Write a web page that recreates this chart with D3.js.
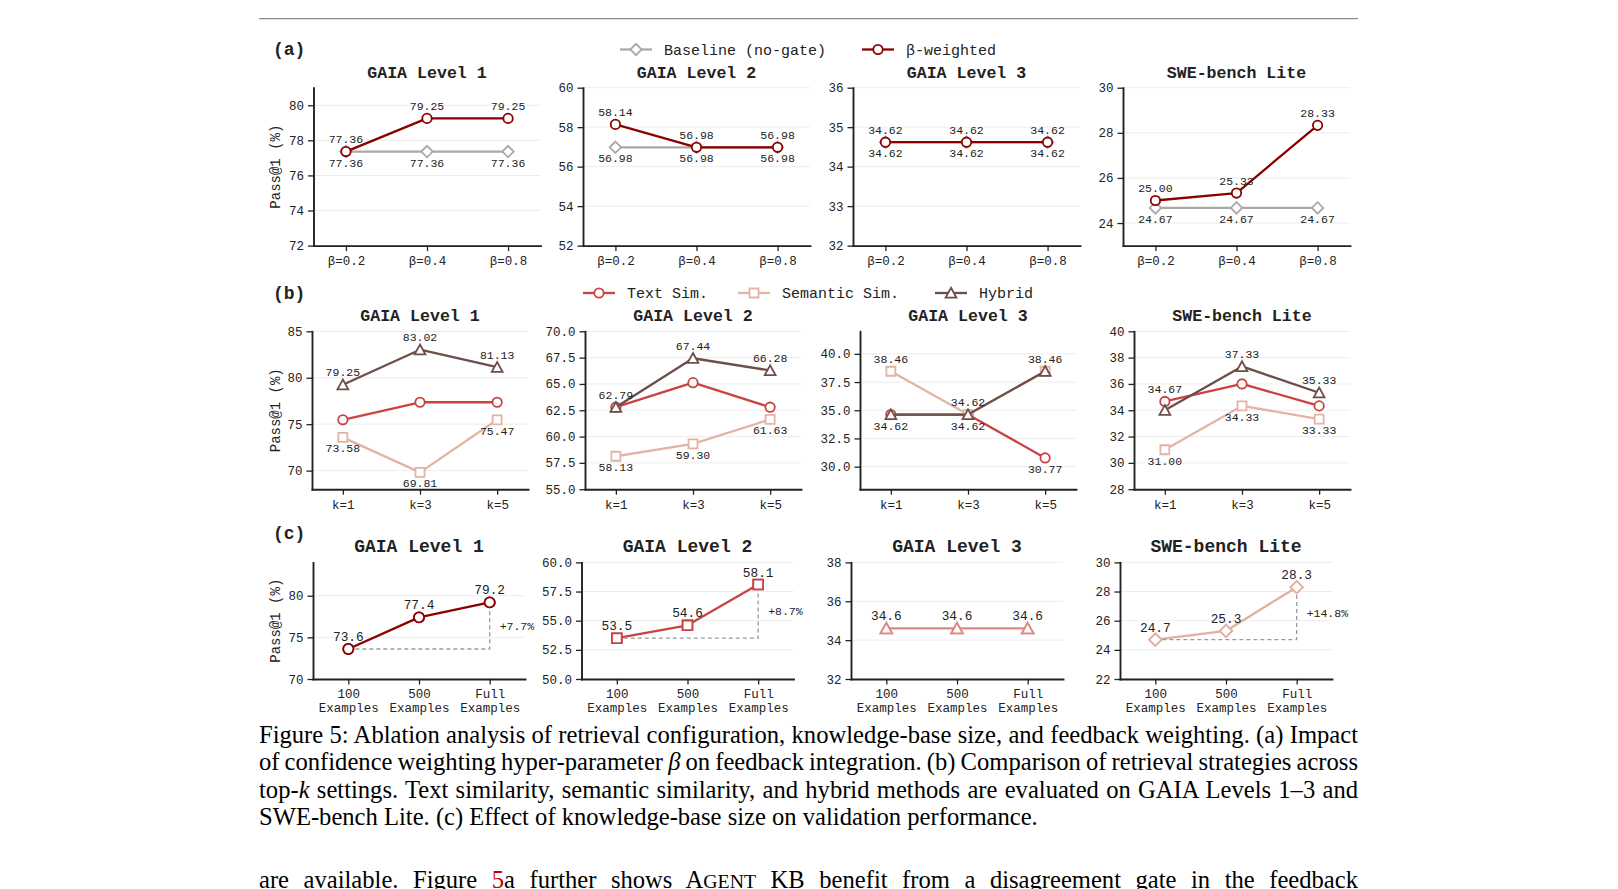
<!DOCTYPE html>
<html>
<head>
<meta charset="utf-8">
<script src="https://d3js.org/d3.v7.min.js"></script>
<style>
  html, body { margin: 0; padding: 0; background: #fff; }
  svg { display: block; }
</style>
</head>
<body>
<svg id="fig" width="1618" height="889"></svg>
<script>
// ---- data ----
const benchmarks = ["GAIA Level 1", "GAIA Level 2", "GAIA Level 3", "SWE-bench Lite"];
const betaLabels = ["β=0.2", "β=0.4", "β=0.8"];
const topKLabels = ["k=1", "k=3", "k=5"];
const kbSizeLabels = [["100", "Examples"], ["500", "Examples"], ["Full", "Examples"]];

// (a) confidence weighting
const baselineScores = [[77.36, 77.36, 77.36], [56.98, 56.98, 56.98], [34.62, 34.62, 34.62], [24.67, 24.67, 24.67]];
const betaWeightedScores = [[77.36, 79.25, 79.25], [58.14, 56.98, 56.98], [34.62, 34.62, 34.62], [25.00, 25.33, 28.33]];

// (b) retrieval strategies
const textSimScores = [[75.47, 77.36, 77.36], [62.79, 65.12, 62.79], [34.62, 34.62, 30.77], [34.67, 36.00, 34.33]];
const semanticSimScores = [[73.58, 69.81, 75.47], [58.13, 59.30, 61.63], [38.46, 34.62, 38.46], [31.00, 34.33, 33.33]];
const hybridScores = [[79.25, 83.02, 81.13], [62.79, 67.44, 66.28], [34.62, 34.62, 38.46], [34.00, 37.33, 35.33]];

// (c) knowledge-base size
const kbSizeScores = [[73.6, 77.4, 79.2], [53.5, 54.6, 58.1], [34.6, 34.6, 34.6], [24.7, 25.3, 28.3]];
const kbGainLabels = ["+7.7%", "+8.7%", null, "+14.8%"];

// y ranges and ticks per panel
const yDomainA = [[72, 81], [52, 60], [32, 36], [23, 30]];
const yTicksA = [[72, 74, 76, 78, 80], [52, 54, 56, 58, 60], [32, 33, 34, 35, 36], [24, 26, 28, 30]];
const yDomainB = [[68, 85], [55, 70], [28, 42], [28, 40]];
const yTicksB = [[70, 75, 80, 85], [55, 57.5, 60, 62.5, 65, 67.5, 70], [30, 32.5, 35, 37.5, 40], [28, 30, 32, 34, 36, 38, 40]];
const yDomainC = [[70, 84], [50, 60], [32, 38], [22, 30]];
const yTicksC = [[70, 75, 80], [50, 52.5, 55, 57.5, 60], [32, 34, 36, 38], [22, 24, 26, 28, 30]];

// ---- styling ----
const MONO = '"Liberation Mono","Courier New",monospace';
const SERIF = '"Liberation Serif","Times New Roman",serif';
const C_BASE = "#a9a9a9", C_BETA = "#8b0000";
const C_TEXT = "#c94343", C_SEM = "#e4b3a5", C_HYB = "#6e4e4a";
const kbColors = ["#8b0000", "#c94343", "#db8a83", "#e2b0a2"];
const kbShapes = ["circle", "square", "triangle", "diamond"];

const rowFrames = [
  { top: 87.7, bottom: 245.6, lefts: [313.5, 583, 853, 1123], width: 227, pad: 0.4, titleSize: 16.6 },
  { top: 331.3, bottom: 489.2, lefts: [312, 585, 860, 1134], width: 216, pad: 0.4, titleSize: 16.6 },
  { top: 562.4, bottom: 679, lefts: [313, 581.5, 851, 1120], width: 212, pad: 0.5, titleSize: 18 }
];

const svg = d3.select("#fig");
svg.append("rect").attr("width", 1618).attr("height", 889).attr("fill", "#fff");

// top rule of the page
svg.append("line").attr("x1", 259).attr("x2", 1358).attr("y1", 18.6).attr("y2", 18.6)
  .attr("stroke", "#8a8a8a").attr("stroke-width", 1.4);

function drawMarker(g, shape, cx, cy, color, k) {
  k = k || 1;
  const sw = 1.8;
  if (shape === "circle") {
    g.append("circle").attr("cx", cx).attr("cy", cy).attr("r", 4.7 * k)
      .attr("fill", "#fff").attr("stroke", color).attr("stroke-width", sw);
    return;
  }
  let d;
  if (shape === "diamond") {
    const s = 5.7 * k;
    d = `M0,${-s}L${s},0L0,${s}L${-s},0Z`;
  } else if (shape === "square") {
    const s = 4.5 * k;
    d = `M${-s},${-s}H${s}V${s}H${-s}Z`;
  } else {
    const w = 5.4 * k, t = 5.2 * k, b = 4.6 * k;
    d = `M0,${-t}L${w},${b}L${-w},${b}Z`;
  }
  g.append("path").attr("d", d).attr("transform", `translate(${cx},${cy})`)
    .attr("fill", "#fff").attr("stroke", color).attr("stroke-width", sw)
    .attr("stroke-linejoin", "miter");
}

function panel(frame, col, opt) {
  const x0 = frame.lefts[col], x1 = x0 + frame.width;
  const x = d3.scaleLinear().domain([-frame.pad, 2 + frame.pad]).range([x0, x1]);
  const y = d3.scaleLinear().domain(opt.yDomain).range([frame.bottom, frame.top]);
  const g = svg.append("g");

  // grid
  g.append("g").selectAll("line").data(opt.yTicks).join("line")
    .attr("x1", x0).attr("x2", x1)
    .attr("y1", d => y(d)).attr("y2", d => y(d))
    .attr("stroke", "#ededed").attr("stroke-width", 1);

  // axes
  const fmt = opt.yTicks.some(t => t % 1) ? d3.format(".1f") : d3.format("d");
  const ya = g.append("g").attr("transform", `translate(${x0},0)`)
    .call(d3.axisLeft(y).tickValues(opt.yTicks).tickFormat(fmt)
      .tickSize(5.5).tickSizeOuter(0).tickPadding(4));
  const xa = g.append("g").attr("transform", `translate(0,${frame.bottom})`)
    .call(d3.axisBottom(x).tickValues([0, 1, 2]).tickFormat(i => opt.cats[i])
      .tickSize(5.5).tickSizeOuter(0).tickPadding(5));
  [ya, xa].forEach(a => {
    a.select(".domain").attr("stroke", "#222").attr("stroke-width", 1.9).attr("stroke-linecap", "square");
    a.selectAll(".tick line").attr("stroke", "#222").attr("stroke-width", 1.3);
    a.selectAll(".tick text").attr("fill", "#222").style("font-family", MONO).style("font-size", "12.5px");
  });
  if (opt.twoLine) {
    xa.selectAll(".tick text").each(function (i) {
      const t = d3.select(this).text("").attr("dy", null);
      opt.twoLine[i].forEach((s, j) => {
        t.append("tspan").attr("x", 0).attr("dy", j === 0 ? "0.71em" : "1.08em").text(s);
      });
    });
  }

  // series
  const line = d3.line().x((d, i) => x(i)).y(d => y(d));
  opt.series.forEach(s => {
    g.append("path").attr("d", line(s.values)).attr("fill", "none")
      .attr("stroke", s.color).attr("stroke-width", 2.3).attr("stroke-linejoin", "round");
    s.values.forEach((v, i) => drawMarker(g, s.shape, x(i), y(v), s.color, opt.markerScale));
  });

  // value labels
  const lab = (xx, yy, txt, size) => g.append("text").attr("x", xx).attr("y", yy)
    .attr("text-anchor", "middle").attr("fill", "#222")
    .style("font-family", MONO).style("font-size", size + "px").text(txt);
  if (opt.labels === "extremes") {
    [0, 1, 2].forEach(i => {
      const vals = opt.series.map(s => s.values[i]);
      const hi = d3.max(vals), lo = d3.min(vals);
      lab(x(i), y(hi) - 8.5, hi.toFixed(2), 11.5);
      lab(x(i), y(lo) + 15, lo.toFixed(2), 11.5);
    });
  } else {
    const v = opt.series[0].values;
    v.forEach((d, i) => lab(x(i), y(d) - 8, d.toFixed(1), 12.8));
    if (opt.gain) {
      g.append("path")
        .attr("d", `M${x(0)},${y(v[0])}H${x(2)}V${y(v[2])}`)
        .attr("fill", "none").attr("stroke", "#9a9a9a").attr("stroke-width", 1.3)
        .attr("stroke-dasharray", "4,3");
      g.append("text").attr("x", x(2) + 10).attr("y", (y(v[0]) + y(v[2])) / 2 + 4)
        .attr("fill", "#222").style("font-family", MONO).style("font-size", "11.5px").text(opt.gain);
    }
    // keep markers above the dashed guide
    opt.series.forEach(s => s.values.forEach((d, i) => drawMarker(g, s.shape, x(i), y(d), s.color, opt.markerScale)));
  }

  // title
  g.append("text").attr("x", (x0 + x1) / 2).attr("y", frame.top - 10)
    .attr("text-anchor", "middle").attr("fill", "#222")
    .style("font-family", MONO).style("font-weight", "bold").style("font-size", frame.titleSize + "px")
    .text(opt.title);

  if (col === 0) {
    g.append("text")
      .attr("transform", `translate(${279.5},${(frame.top + frame.bottom) / 2}) rotate(-90)`)
      .attr("text-anchor", "middle").attr("fill", "#222")
      .style("font-family", MONO).style("font-size", "14px").text("Pass@1 (%)");
  }
}

function rowLabel(txt, yy) {
  svg.append("text").attr("x", 273).attr("y", yy).attr("fill", "#222")
    .style("font-family", MONO).style("font-weight", "bold").style("font-size", "18px").text(txt);
}

function legend(yy, entries) {
  entries.forEach(e => {
    svg.append("line").attr("x1", e.x).attr("x2", e.x + 32).attr("y1", yy).attr("y2", yy)
      .attr("stroke", e.color).attr("stroke-width", 2.3);
    drawMarker(svg, e.shape, e.x + 16, yy, e.color, 1);
    svg.append("text").attr("x", e.x + 44).attr("y", yy + 5).attr("fill", "#222")
      .style("font-family", MONO).style("font-size", "15px").text(e.name);
  });
}

// ---- (a) ----
rowLabel("(a)", 55);
legend(49.5, [
  { x: 620, name: "Baseline (no-gate)", color: C_BASE, shape: "diamond" },
  { x: 862, name: "β-weighted", color: C_BETA, shape: "circle" }
]);
benchmarks.forEach((b, i) => panel(rowFrames[0], i, {
  title: b, yDomain: yDomainA[i], yTicks: yTicksA[i], cats: betaLabels, labels: "extremes",
  series: [
    { values: baselineScores[i], color: C_BASE, shape: "diamond" },
    { values: betaWeightedScores[i], color: C_BETA, shape: "circle" }
  ]
}));

// ---- (b) ----
rowLabel("(b)", 298.5);
legend(293, [
  { x: 583, name: "Text Sim.", color: C_TEXT, shape: "circle" },
  { x: 738, name: "Semantic Sim.", color: C_SEM, shape: "square" },
  { x: 935, name: "Hybrid", color: C_HYB, shape: "triangle" }
]);
benchmarks.forEach((b, i) => panel(rowFrames[1], i, {
  title: b, yDomain: yDomainB[i], yTicks: yTicksB[i], cats: topKLabels, labels: "extremes",
  series: [
    { values: textSimScores[i], color: C_TEXT, shape: "circle" },
    { values: semanticSimScores[i], color: C_SEM, shape: "square" },
    { values: hybridScores[i], color: C_HYB, shape: "triangle" }
  ]
}));

// ---- (c) ----
rowLabel("(c)", 539);
benchmarks.forEach((b, i) => panel(rowFrames[2], i, {
  title: b, yDomain: yDomainC[i], yTicks: yTicksC[i], cats: kbSizeLabels.map(d => d[0]),
  twoLine: kbSizeLabels, labels: "above", gain: kbGainLabels[i], markerScale: 1.08,
  series: [{ values: kbSizeScores[i], color: kbColors[i], shape: kbShapes[i] }]
}));

// ---- caption and page text ----
const captionLines = [
  { y: 742.5, justify: true, parts: [["Figure 5: Ablation analysis of retrieval configuration, knowledge-base size, and feedback weighting. (a) Impact"]] },
  { y: 770, justify: true, parts: [["of confidence weighting hyper-parameter "], ["β", "italic"], [" on feedback integration. (b) Comparison of retrieval strategies across"]] },
  { y: 797.5, justify: true, parts: [["top-"], ["k", "italic"], [" settings. Text similarity, semantic similarity, and hybrid methods are evaluated on GAIA Levels 1–3 and"]] },
  { y: 825, justify: false, parts: [["SWE-bench Lite. (c) Effect of knowledge-base size on validation performance."]] },
  { y: 888, justify: true, parts: [["are available. Figure "], ["5", "red"], ["a further shows A"], ["GENT", "small"], [" KB benefit from a disagreement gate in the feedback"]] }
];

captionLines.forEach(l => {
  const t = svg.append("text").attr("x", 259).attr("y", l.y).attr("fill", "#000")
    .style("font-family", SERIF).style("font-size", "24.6px").attr("xml:space", "preserve");
  l.parts.forEach(([s, st]) => {
    const sp = t.append("tspan").text(s);
    if (st === "italic") sp.style("font-style", "italic");
    if (st === "red") sp.attr("fill", "#c00000");
    if (st === "small") sp.style("font-size", "19.8px");
  });
  if (l.justify) {
    const len = t.node().getComputedTextLength();
    const n = (t.text().match(/ /g) || []).length;
    if (n) t.style("word-spacing", ((1099 - len) / n) + "px");
  }
});
</script>
</body>
</html>
